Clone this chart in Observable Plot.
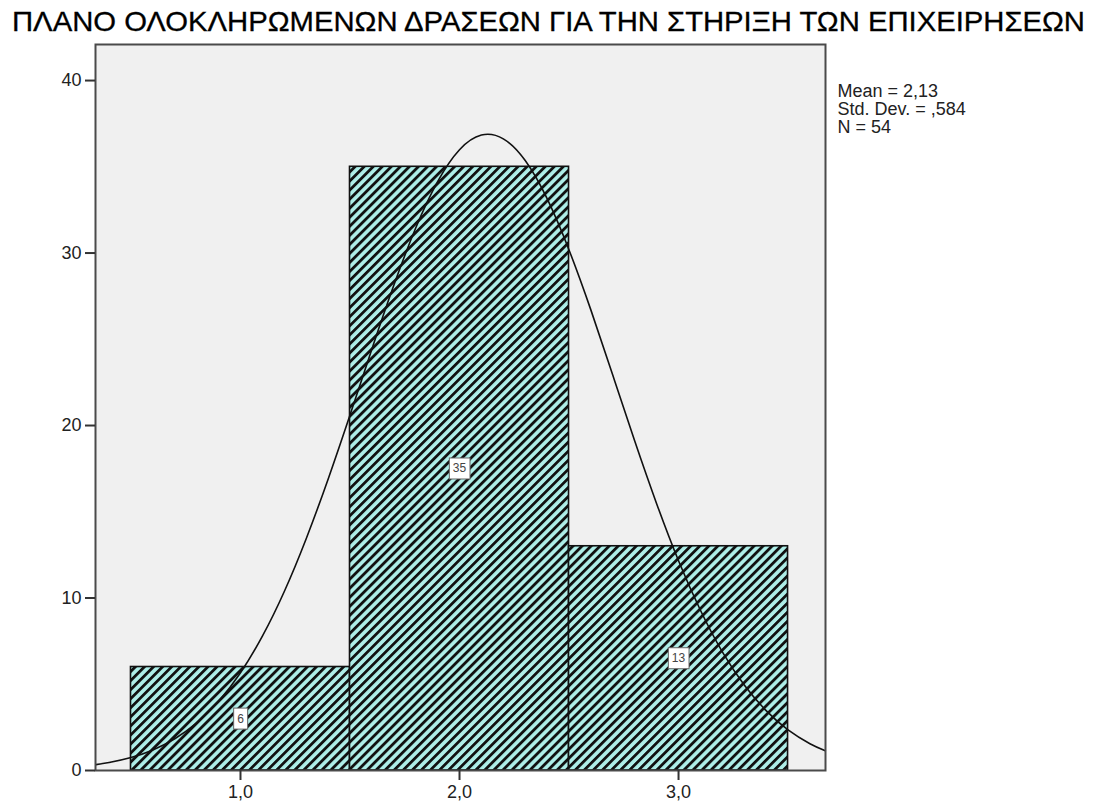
<!DOCTYPE html>
<html>
<head>
<meta charset="utf-8">
<script src="https://cdn.jsdelivr.net/npm/d3@7"></script>
<script src="https://cdn.jsdelivr.net/npm/@observablehq/plot@0.6"></script>
<style>
  html, body { margin: 0; padding: 0; background: #fff; }
  #wrap { position: relative; width: 1094px; height: 807px; overflow: hidden; }
  #title { position: absolute; left: 12px; top: 0; height: 40px; line-height: 40px; padding-top: 2px;
           font-family: "Liberation Sans", Arial, sans-serif; font-size: 28px; color: #000;
           white-space: nowrap; transform-origin: 0 0; -webkit-text-stroke: 0.3px #000; }
  #chart { position: absolute; left: 0; top: 40px; }
</style>
</head>
<body>
<div id="wrap">
  <div id="title"><span id="titleText">ΠΛΑΝΟ ΟΛΟΚΛΗΡΩΜΕΝΩΝ ΔΡΑΣΕΩΝ ΓΙΑ ΤΗΝ ΣΤΗΡΙΞΗ ΤΩΝ ΕΠΙΧΕΙΡΗΣΕΩΝ</span></div>
  <div id="chart"></div>
</div>
<script>
// ---- data ----
const binStart = [0.5, 1.5, 2.5];
const binEnd = [1.5, 2.5, 3.5];
const binCenter = [1, 2, 3];
const counts = [6, 35, 13];
const xTickValues = [1, 2, 3];
const xTickLabels = ["1,0", "2,0", "3,0"];
const yTickValues = [0, 10, 20, 30, 40];
const statsLines = ["Mean = 2,13", "Std. Dev. = ,584", "N = 54"];
// normal curve
const curveX = [0.34, 0.4, 0.5, 0.6, 0.7, 0.8, 0.9, 1.0, 1.1, 1.2, 1.3, 1.4, 1.5, 1.6, 1.7, 1.8, 1.9, 2.0, 2.1, 2.2, 2.3, 2.4, 2.5, 2.6, 2.7, 2.8, 2.9, 3.0, 3.1, 3.2, 3.3, 3.4, 3.5, 3.6, 3.67];
const curveY = [0.34, 0.46, 0.75, 1.19, 1.84, 2.76, 4.01, 5.67, 7.79, 10.38, 13.44, 16.89, 20.61, 24.44, 28.13, 31.45, 34.14, 35.99, 36.84, 36.62, 35.36, 33.15, 30.18, 26.69, 22.91, 19.10, 15.47, 12.16, 9.29, 6.88, 4.96, 3.47, 2.35, 1.55, 1.14];

const bars = binStart.map((s, i) => ({x1: s, x2: binEnd[i], c: binCenter[i], count: counts[i]}));
const curve = curveX.map((x, i) => ({x, y: curveY[i]}));

const font = '"Liberation Sans", Arial, sans-serif';
const fmtX = d => xTickLabels[xTickValues.indexOf(d)];

const plot = Plot.plot({
  width: 1094,
  height: 767,
  marginLeft: 95,
  marginRight: 269,
  marginTop: 4,
  marginBottom: 37,
  style: {fontFamily: font, fontSize: "18px", color: "#222", background: "transparent", overflow: "visible"},
  x: {domain: [0.338, 3.671], label: null},
  y: {domain: [0, 42.09], label: null},
  marks: [
    Plot.frame({fill: "#f0f0f0", stroke: "none"}),
    Plot.rect(bars, {x1: "x1", x2: "x2", y1: 0, y2: "count", fill: "url(#hatch)", stroke: "#111", strokeWidth: 1.6}),
    Plot.line(curve, {x: "x", y: "y", curve: "natural", stroke: "#111", strokeWidth: 1.6}),
    Plot.text(bars, {x: "c", y: d => d.count / 2, text: d => String(d.count), fontSize: 12, fill: "#444", className: "countlab"}),
    Plot.frame({stroke: "#4a4a4a", strokeWidth: 2}),
    Plot.axisX({ticks: xTickValues, tickFormat: fmtX, tickSize: 10, tickPadding: 5, label: null, stroke: "#333", strokeWidth: 2, fontSize: 18, fill: "#222"}),
    Plot.axisY({ticks: yTickValues, tickSize: 10, tickPadding: 4, label: null, stroke: "#333", strokeWidth: 2, fontSize: 18, fill: "#222"}),
    Plot.text([statsLines.join("\n")], {frameAnchor: "top-right", textAnchor: "start", lineAnchor: "top", dx: 12, dy: 40, fontSize: 18, lineHeight: 1.0, fill: "#222"})
  ]
});

// hatch pattern
const ns = "http://www.w3.org/2000/svg";
const defs = document.createElementNS(ns, "defs");
defs.innerHTML = `<pattern id="hatch" patternUnits="userSpaceOnUse" width="6.4" height="6.4" patternTransform="rotate(45)">
  <rect width="6.4" height="6.4" fill="#aeeee8"></rect>
  <rect x="0" y="0" width="2.8" height="6.4" fill="#111"></rect>
</pattern>`;
plot.insertBefore(defs, plot.firstChild);
document.getElementById("chart").appendChild(plot);

// label boxes
plot.querySelectorAll("g.countlab text").forEach(t => {
  const b = t.getBBox();
  const r = document.createElementNS(ns, "rect");
  const w = b.width + 7, h = 21;
  r.setAttribute("x", b.x + b.width / 2 - w / 2);
  r.setAttribute("y", b.y + b.height / 2 - h / 2);
  r.setAttribute("width", w);
  r.setAttribute("height", h);
  r.setAttribute("fill", "#fff");
  r.setAttribute("stroke", "#666");
  r.setAttribute("stroke-width", "1");
  const tr = t.getAttribute("transform");
  if (tr) r.setAttribute("transform", tr);
  t.parentNode.insertBefore(r, t);
});

// fit title width
const ts = document.getElementById("titleText");
const tw = ts.getBoundingClientRect().width;
document.getElementById("title").style.transform = `scaleX(${1073 / tw})`;
</script>
</body>
</html>
